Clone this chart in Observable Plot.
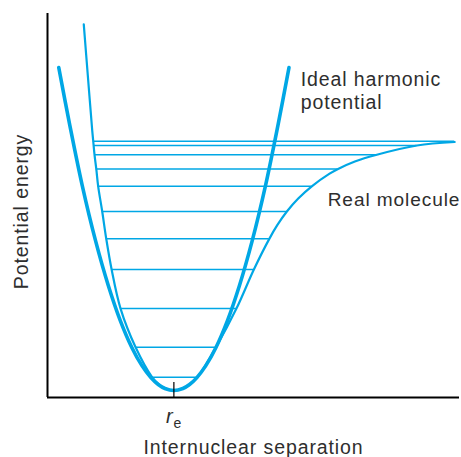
<!DOCTYPE html>
<html><head><meta charset="utf-8">
<script src="https://cdn.jsdelivr.net/npm/d3@7"></script>
<script src="https://cdn.jsdelivr.net/npm/@observablehq/plot@0.6"></script>
<style>body{margin:0;background:#fff}</style>
</head><body><div id="chart"></div>
<script>
// Ideal harmonic potential (separation r, energy V)
const harmonicR = [0.089, 0.177, 0.275, 0.380, 0.481, 0.576, 0.667, 0.747, 0.818, 0.876, 0.929, 1.0, 1.071, 1.124, 1.182, 1.253, 1.333, 1.424, 1.519, 1.620, 1.725, 1.823, 1.911];
const harmonicV = [1.297, 1.064, 0.823, 0.602, 0.422, 0.281, 0.173, 0.100, 0.052, 0.024, 0.008, 0.0, 0.008, 0.024, 0.052, 0.100, 0.173, 0.281, 0.422, 0.602, 0.823, 1.064, 1.297];
// Real molecule (anharmonic) potential
const morseR = [0.287, 0.319, 0.354, 0.362, 0.372, 0.386, 0.401, 0.433, 0.465, 0.507, 0.578, 0.697, 0.829, 0.883, 0.917, 1.0, 1.089, 1.125, 1.185, 1.333, 1.495, 1.633, 1.755, 1.818, 1.894, 1.984, 2.091, 2.232, 2.299, 2.432, 2.606, 2.923, 3.222];
const morseV = [1.470, 1.265, 1.044, 1.001, 0.947, 0.890, 0.820, 0.719, 0.609, 0.487, 0.329, 0.174, 0.053, 0.024, 0.012, 0.0, 0.012, 0.024, 0.053, 0.174, 0.329, 0.486, 0.609, 0.664, 0.719, 0.771, 0.820, 0.871, 0.890, 0.920, 0.947, 0.984, 0.998];
// Vibrational energy levels and their classical turning points
const levelV = [0.053, 0.174, 0.329, 0.486, 0.609, 0.719, 0.820, 0.890, 0.947, 0.984, 1.001];
const levelLeft = [0.829, 0.697, 0.578, 0.507, 0.465, 0.433, 0.401, 0.386, 0.372, 0.364, 0.362];
const levelRight = [1.185, 1.333, 1.495, 1.633, 1.755, 1.894, 2.091, 2.299, 2.606, 2.923, 3.222];
// Equilibrium separation
const re = 1.0;
// Texts
const xLabel = "Internuclear separation";
const yLabel = "Potential energy";
const harmonicLabel = "Ideal harmonic\npotential";
const morseLabel = "Real molecule";
const reSymbol = "r";
const reSub = "e";

const harmonic = harmonicR.map((r, i) => ({r, v: harmonicV[i]}));
const morse = morseR.map((r, i) => ({r, v: morseV[i]}));
const levels = levelV.map((v, i) => ({v, r1: levelLeft[i], r2: levelRight[i]}));

const blue = "#00a7e5";
const ink = "#2e2e2e";
const font = "Liberation Sans, Arial, Helvetica, sans-serif";
const xDomain = [0, 3.26];
const yDomain = [-0.028, 1.514];

const chart = Plot.plot({
  width: 461,
  height: 457,
  marginLeft: 47,
  marginRight: 2,
  marginTop: 13,
  marginBottom: 60,
  style: {fontFamily: font, letterSpacing: "0.9px", background: "#fff"},
  x: {domain: xDomain, axis: null},
  y: {domain: yDomain, axis: null},
  marks: [
    Plot.ruleY(levels, {y: "v", x1: "r1", x2: "r2", stroke: blue, strokeWidth: 1.5}),
    Plot.line(morse, {x: "r", y: "v", stroke: blue, strokeWidth: 2.2, curve: "catmull-rom"}),
    Plot.line(harmonic, {x: "r", y: "v", stroke: blue, strokeWidth: 3.6, curve: "catmull-rom"}),
    Plot.ruleX([xDomain[0]], {stroke: "#000", strokeWidth: 2}),
    Plot.ruleY([yDomain[0]], {stroke: "#000", strokeWidth: 2}),
    Plot.tickX([re], {x: d => d, stroke: "#000", strokeWidth: 1.2, insetTop: 369}),
    Plot.text([reSymbol], {x: re, frameAnchor: "bottom", dx: -4, dy: 25, lineAnchor: "bottom", fontStyle: "italic", fontSize: 20, fill: ink, text: d => d}),
    Plot.text([reSub], {x: re, frameAnchor: "bottom", dx: 4, dy: 30, lineAnchor: "bottom", fontSize: 14, fill: ink, text: d => d}),
    Plot.text([xLabel], {frameAnchor: "bottom", dy: 56, lineAnchor: "bottom", fontSize: 19.5, fill: ink, text: d => d}),
    Plot.text([yLabel], {frameAnchor: "left", textAnchor: "middle", rotate: -90, dx: -20, dy: 6, lineAnchor: "bottom", fontSize: 19.5, fill: ink, text: d => d}),
    Plot.text([harmonicLabel], {x: 2.003, y: 1.290, textAnchor: "start", lineAnchor: "top", lineHeight: 1.2, fontSize: 19.5, fill: ink, text: d => d}),
    Plot.text([morseLabel], {x: 2.217, y: 0.743, textAnchor: "start", lineAnchor: "bottom", fontSize: 19.1, fill: ink, text: d => d})
  ]
});
document.getElementById("chart").append(chart);
</script>
</body></html>
